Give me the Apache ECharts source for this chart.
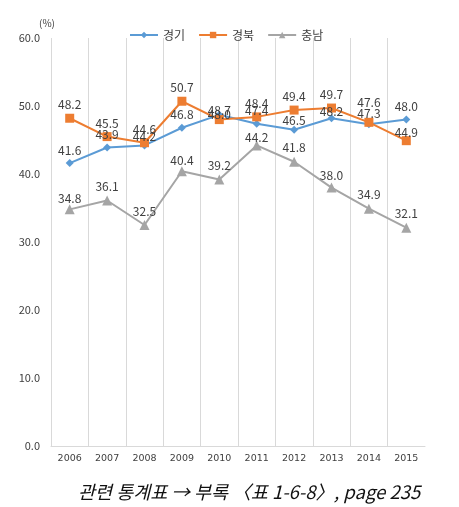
<!DOCTYPE html>
<html><head><meta charset="utf-8">
<script src="https://cdn.jsdelivr.net/npm/echarts@6/dist/echarts.min.js"></script>
<style>html,body{margin:0;padding:0;background:#fff}#c{width:459px;height:507px}</style>
</head><body><div id="c"></div>
<script>
const years = ['2006','2007','2008','2009','2010','2011','2012','2013','2014','2015'];
const gyeonggi = [41.6, 43.9, 44.2, 46.8, 48.7, 47.4, 46.5, 48.2, 47.3, 48.0];
const gyeongbuk = [48.2, 45.5, 44.6, 50.7, 48.0, 48.4, 49.4, 49.7, 47.6, 44.9];
const chungnam = [34.8, 36.1, 32.5, 40.4, 39.2, 44.2, 41.8, 38.0, 34.9, 32.1];
const seriesNames = ['경기', '경북', '충남'];
const colors = ['#5B9BD5', '#ED7D31', '#A5A5A5'];
const font = "'Noto Sans CJK KR', 'Noto Sans', sans-serif";

// label vertical nudges (px, positive = down), matching the reference's hand-placed labels
const labelNudge = [
  {2: 4, 4: 9, 6: 4, 7: 6, 8: 2},
  {4: 8, 8: -6, 9: 5},
  {0: 3, 3: 3, 5: 6, 7: 2}
];

function buildData(values, si) {
  return values.map((v, i) => {
    const d = labelNudge[si][i];
    return d ? {value: v, label: {offset: [0, d]}} : v;
  });
}

const chart = echarts.init(document.getElementById('c'));
const lbl = {show: true, position: 'top', distance: 3, fontSize: 12, color: '#404040', fontFamily: font, formatter: p => Number(p.value).toFixed(1)};
chart.setOption({
  animation: false,
  color: colors,
  grid: {left: 51, right: 34, top: 38, bottom: 61},
  legend: {
    top: 24, left: 124, itemWidth: 28, itemHeight: 8, itemGap: 13,
    textStyle: {fontSize: 12, color: '#404040', fontFamily: font},
    data: seriesNames
  },
  xAxis: {
    type: 'category', data: years, boundaryGap: true,
    axisLine: {lineStyle: {color: '#D9D9D9'}},
    axisTick: {show: false},
    splitLine: {show: true, showMaxLine: false, lineStyle: {color: '#D9D9D9'}},
    axisLabel: {fontSize: 9.5, color: '#404040', margin: 8, fontFamily: 'DejaVu Sans'}
  },
  yAxis: {
    type: 'value', min: 0, max: 60, interval: 10,
    name: '(%)', nameLocation: 'end', nameGap: 10,
    nameTextStyle: {fontSize: 10, color: '#404040', fontFamily: font, align: 'left', padding: [0,0,0,-12]},
    axisLine: {show: false}, axisTick: {show: false},
    splitLine: {show: false},
    axisLabel: {fontSize: 11, color: '#404040', margin: 11, fontFamily: font, formatter: v => v.toFixed(1)}
  },
  series: [
    {name: seriesNames[0], type: 'line', data: buildData(gyeonggi, 0), symbol: 'diamond', symbolSize: 8, lineStyle: {width: 2}, label: lbl},
    {name: seriesNames[1], type: 'line', data: buildData(gyeongbuk, 1), symbol: 'rect', symbolSize: 9, lineStyle: {width: 2}, label: lbl},
    {name: seriesNames[2], type: 'line', data: buildData(chungnam, 2), symbol: 'triangle', symbolSize: 10, lineStyle: {width: 2}, label: lbl}
  ],
  graphic: [{
    type: 'text', left: 78, top: 483,
    style: {text: '관련 통계표 → 부록 〈표 1-6-8〉, page 235', fontSize: 18.5, fontStyle: 'italic', fontFamily: font, fill: '#111'}
  }]
});
</script></body></html>
